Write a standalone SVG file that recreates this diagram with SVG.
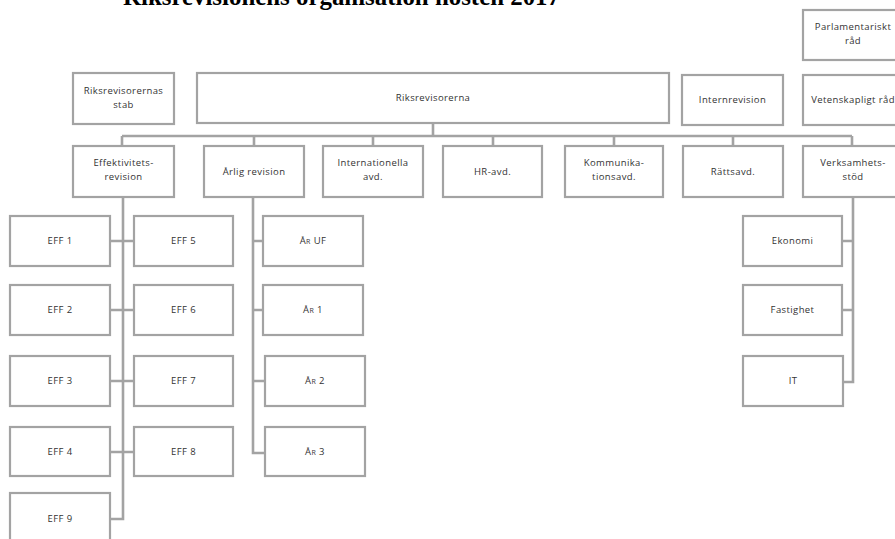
<svg xmlns="http://www.w3.org/2000/svg" width="895" height="539" viewBox="0 0 895 539">
<style>
.b{fill:#fff;stroke:#a3a3a3;stroke-width:2.2}
.t{font-family:"Open Sans","Liberation Sans",sans-serif;font-size:9.5px;letter-spacing:0.4px;fill:#333;text-anchor:middle}
.c{fill:none;stroke:#a3a3a3;stroke-width:2.6}
.title{font-family:"Liberation Serif",serif;font-weight:bold;font-size:24.8px;fill:#000}
.sc{font-variant:small-caps}
</style>
<rect width="895" height="539" fill="#fff"/>
<text class="title" x="123" y="5" textLength="437" lengthAdjust="spacingAndGlyphs">Riksrevisionens organisation hösten 2017</text>
<g id="connectors">
<path class="c" d="M433 123V136M122 136H852M122 136V146M254 136V146M373 136V146M493 136V146M614 136V146M733 136V146M852 136V146"/>
<path class="c" d="M123 197V519H110M110 241H134M110 310H134M110 381H134M110 452H134"/>
<path class="c" d="M253 197V453H265M253 241H263M253 310H263M253 381H265"/>
<path class="c" d="M853 197V382H843M853 241H842M853 310H842"/>
</g>
<g id="stab"><rect class="b" x="73" y="73" width="101" height="51"/><text class="t" x="123.5" y="94">Riksrevisorernas</text><text class="t" x="123.5" y="108">stab</text></g>
<g id="riksrevisorerna"><rect class="b" x="197" y="73" width="472" height="50"/><text class="t" x="433" y="101">Riksrevisorerna</text></g>
<g id="internrevision"><rect class="b" x="682" y="75" width="101" height="50"/><text class="t" x="732.5" y="103">Internrevision</text></g>
<g id="parlamentariskt"><rect class="b" x="803" y="10" width="100" height="50"/><text class="t" x="853" y="30">Parlamentariskt</text><text class="t" x="853" y="44">råd</text></g>
<g id="vetenskapligt"><rect class="b" x="803" y="75" width="100" height="50"/><text class="t" x="853" y="103">Vetenskapligt  råd</text></g>
<g id="eff"><rect class="b" x="73" y="146" width="101" height="51"/><text class="t" x="123.5" y="166">Effektivitets-</text><text class="t" x="123.5" y="180">revision</text></g>
<g id="arlig"><rect class="b" x="204" y="146" width="100" height="51"/><text class="t" x="254" y="175">Årlig  revision</text></g>
<g id="internationella"><rect class="b" x="323" y="146" width="100" height="51"/><text class="t" x="373" y="166">Internationella</text><text class="t" x="373" y="180">avd.</text></g>
<g id="hr"><rect class="b" x="443" y="146" width="99" height="51"/><text class="t" x="492.5" y="175">HR-avd.</text></g>
<g id="komm"><rect class="b" x="565" y="146" width="98" height="51"/><text class="t" x="614" y="166">Kommunika-</text><text class="t" x="614" y="180">tionsavd.</text></g>
<g id="ratt"><rect class="b" x="683" y="146" width="100" height="51"/><text class="t" x="733" y="175">Rättsavd.</text></g>
<g id="verks"><rect class="b" x="803" y="146" width="100" height="51"/><text class="t" x="853" y="166">Verksamhets-</text><text class="t" x="853" y="180">stöd</text></g>
<g id="eff1"><rect class="b" x="10" y="216" width="100" height="50"/><text class="t" x="60" y="244">EFF 1</text></g>
<g id="eff2"><rect class="b" x="10" y="285" width="100" height="50"/><text class="t" x="60" y="313">EFF 2</text></g>
<g id="eff3"><rect class="b" x="10" y="356" width="100" height="50"/><text class="t" x="60" y="384">EFF 3</text></g>
<g id="eff4"><rect class="b" x="10" y="427" width="100" height="49"/><text class="t" x="60" y="455">EFF 4</text></g>
<g id="eff9"><rect class="b" x="10" y="493" width="100" height="52"/><text class="t" x="60" y="522">EFF 9</text></g>
<g id="eff5"><rect class="b" x="134" y="216" width="99" height="50"/><text class="t" x="183.5" y="244">EFF 5</text></g>
<g id="eff6"><rect class="b" x="134" y="285" width="99" height="50"/><text class="t" x="183.5" y="313">EFF 6</text></g>
<g id="eff7"><rect class="b" x="134" y="356" width="99" height="50"/><text class="t" x="183.5" y="384">EFF 7</text></g>
<g id="eff8"><rect class="b" x="134" y="427" width="99" height="49"/><text class="t" x="183.5" y="455">EFF 8</text></g>
<g id="aruf"><rect class="b" x="263" y="216" width="100" height="50"/><text class="t sc" x="313" y="244">År UF</text></g>
<g id="ar1"><rect class="b" x="263" y="285" width="100" height="50"/><text class="t sc" x="313" y="313">År 1</text></g>
<g id="ar2"><rect class="b" x="265" y="356" width="100" height="50"/><text class="t sc" x="315" y="384">År 2</text></g>
<g id="ar3"><rect class="b" x="265" y="427" width="100" height="49"/><text class="t sc" x="315" y="455">År 3</text></g>
<g id="ekonomi"><rect class="b" x="743" y="216" width="99" height="50"/><text class="t" x="792.5" y="244">Ekonomi</text></g>
<g id="fastighet"><rect class="b" x="743" y="285" width="99" height="50"/><text class="t" x="792.5" y="313">Fastighet</text></g>
<g id="it"><rect class="b" x="743" y="356" width="100" height="50"/><text class="t" x="793" y="384">IT</text></g>
</svg>
